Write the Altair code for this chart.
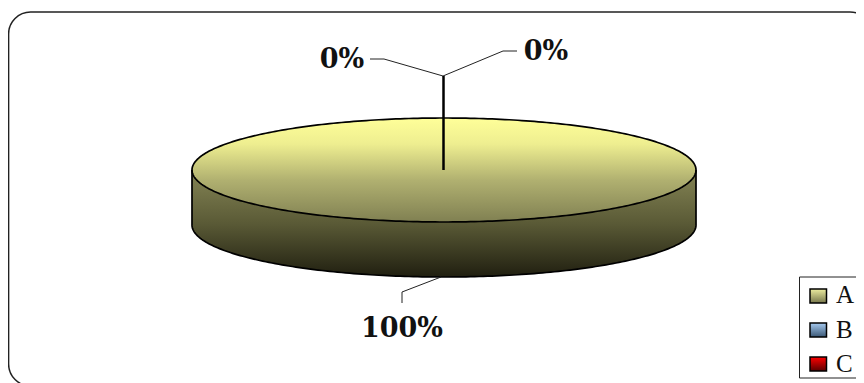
import math
import altair as alt
import pandas as pd

categories = ["A", "B", "C"]
shares = [100, 0, 0]
label_x = [402, 342, 546]
label_y = [329, 60, 52]
swatch_top = ["#ecec9f", "#a6caf0", "#ff0000"]
swatch_bottom = ["#77774c", "#3b5875", "#5a0000"]
swatch_y = [289, 323, 357]
legend_text_y = [295, 330, 364]

CX, CY, RX, RY, DEPTH = 444, 170, 252, 52, 55

xs = alt.Scale(domain=[8, 856], nice=False, zero=False)
ys = alt.Scale(domain=[383, 8], nice=False, zero=False)


def X(f="x"):
    return alt.X(f"{f}:Q", scale=xs, axis=None)


def Y(f="y"):
    return alt.Y(f"{f}:Q", scale=ys, axis=None)


def grad(stops):
    return alt.Gradient(
        gradient="linear", x1=0, x2=0, y1=0, y2=1,
        stops=[alt.GradientStop(color=c, offset=o) for o, c in stops],
    )


steps = 180
pts = []
for i in range(steps + 1):
    t = math.pi * i / steps
    x = CX - RX * math.cos(t)
    dy = RY * math.sin(t)
    pts.append({"x": x, "up": CY - dy, "low": CY + dy, "bot": CY + dy + DEPTH})
disc = pd.DataFrame(pts)

frame = alt.Chart(pd.DataFrame({"x": [8.6], "x2": [872], "y": [12], "y2": [386]})).mark_rect(
    fill="white", stroke="#222222", strokeWidth=1.5, cornerRadius=22
).encode(x=X(), x2="x2:Q", y=Y(), y2="y2:Q")

side = alt.Chart(disc).mark_area(
    fill=grad([(0, "#858555"), (0.5, "#5a5a36"), (1, "#201f10")])
).encode(x=X(), y=Y("low"), y2="bot:Q")

top = alt.Chart(disc).mark_area(
    fill=grad([(0, "#ffff99"), (0.25, "#eeee90"), (0.6, "#b0b070"), (1, "#808052")])
).encode(x=X(), y=Y("up"), y2="low:Q")

ring_rows = [{"x": p["x"], "y": p["up"], "i": n} for n, p in enumerate(pts)]
ring_rows += [{"x": p["x"], "y": p["low"], "i": steps + 1 + n} for n, p in enumerate(reversed(pts))]
ring = alt.Chart(pd.DataFrame(ring_rows)).mark_line(color="black", strokeWidth=1.7).encode(
    x=X(), y=Y(), order="i:Q"
)

rim_rows = [{"x": CX - RX, "y": CY, "i": 0}]
rim_rows += [{"x": p["x"], "y": p["bot"], "i": n + 1} for n, p in enumerate(pts)]
rim_rows += [{"x": CX + RX, "y": CY, "i": steps + 3}]
rim = alt.Chart(pd.DataFrame(rim_rows)).mark_line(color="black", strokeWidth=1.7).encode(
    x=X(), y=Y(), order="i:Q"
)

radial = alt.Chart(pd.DataFrame({"x": [443.5, 443.5], "y": [76, 170], "i": [0, 1]})).mark_line(
    color="black", strokeWidth=2.5
).encode(x=X(), y=Y(), order="i:Q")

leader_rows = []
for name, path in {
    "a": [(402, 303), (402, 292), (441, 277)],
    "b": [(370, 59), (384, 59), (443, 76)],
    "c": [(517, 51), (503, 51), (443, 76)],
}.items():
    for n, (x, y) in enumerate(path):
        leader_rows.append({"x": x, "y": y, "g": name, "i": n})
leaders = alt.Chart(pd.DataFrame(leader_rows)).mark_line(color="#222222", strokeWidth=1).encode(
    x=X(), y=Y(), detail="g:N", order="i:Q"
)

labels = alt.Chart(pd.DataFrame({
    "x": label_x, "y": label_y, "t": [f"{v}%" for v in shares],
})).mark_text(
    font="DejaVu Serif", fontWeight="bold", fontSize=27, color="#111111",
    align="center", baseline="middle",
).encode(x=X(), y=Y(), text="t:N")

legend_box = alt.Chart(pd.DataFrame({"x": [799.5], "x2": [890], "y": [277], "y2": [378]})).mark_rect(
    fill="white", stroke="#222222", strokeWidth=1
).encode(x=X(), x2="x2:Q", y=Y(), y2="y2:Q")

swatches = []
for c, t, b, sy in zip(categories, swatch_top, swatch_bottom, swatch_y):
    swatches.append(
        alt.Chart(pd.DataFrame({"x": [810], "x2": [826.5], "y": [sy], "y2": [sy + 14], "c": [c]})).mark_rect(
            fill=grad([(0, t), (1, b)]), stroke="black", strokeWidth=1.5
        ).encode(x=X(), x2="x2:Q", y=Y(), y2="y2:Q")
    )

legend_text = alt.Chart(pd.DataFrame({
    "x": [836, 836, 836], "y": legend_text_y, "t": categories,
})).mark_text(
    font="Liberation Serif", fontSize=25, color="#111111", align="left", baseline="middle",
).encode(x=X(), y=Y(), text="t:N")

chart = alt.layer(
    frame, side, top, ring, rim, leaders, radial, labels, legend_box, *swatches, legend_text
).properties(
    width=848, height=375, padding=0, autosize=alt.AutoSizeParams(type="none")
).configure_view(stroke=None)

chart.save("out.html", embed_options={"renderer": "svg", "actions": False})
